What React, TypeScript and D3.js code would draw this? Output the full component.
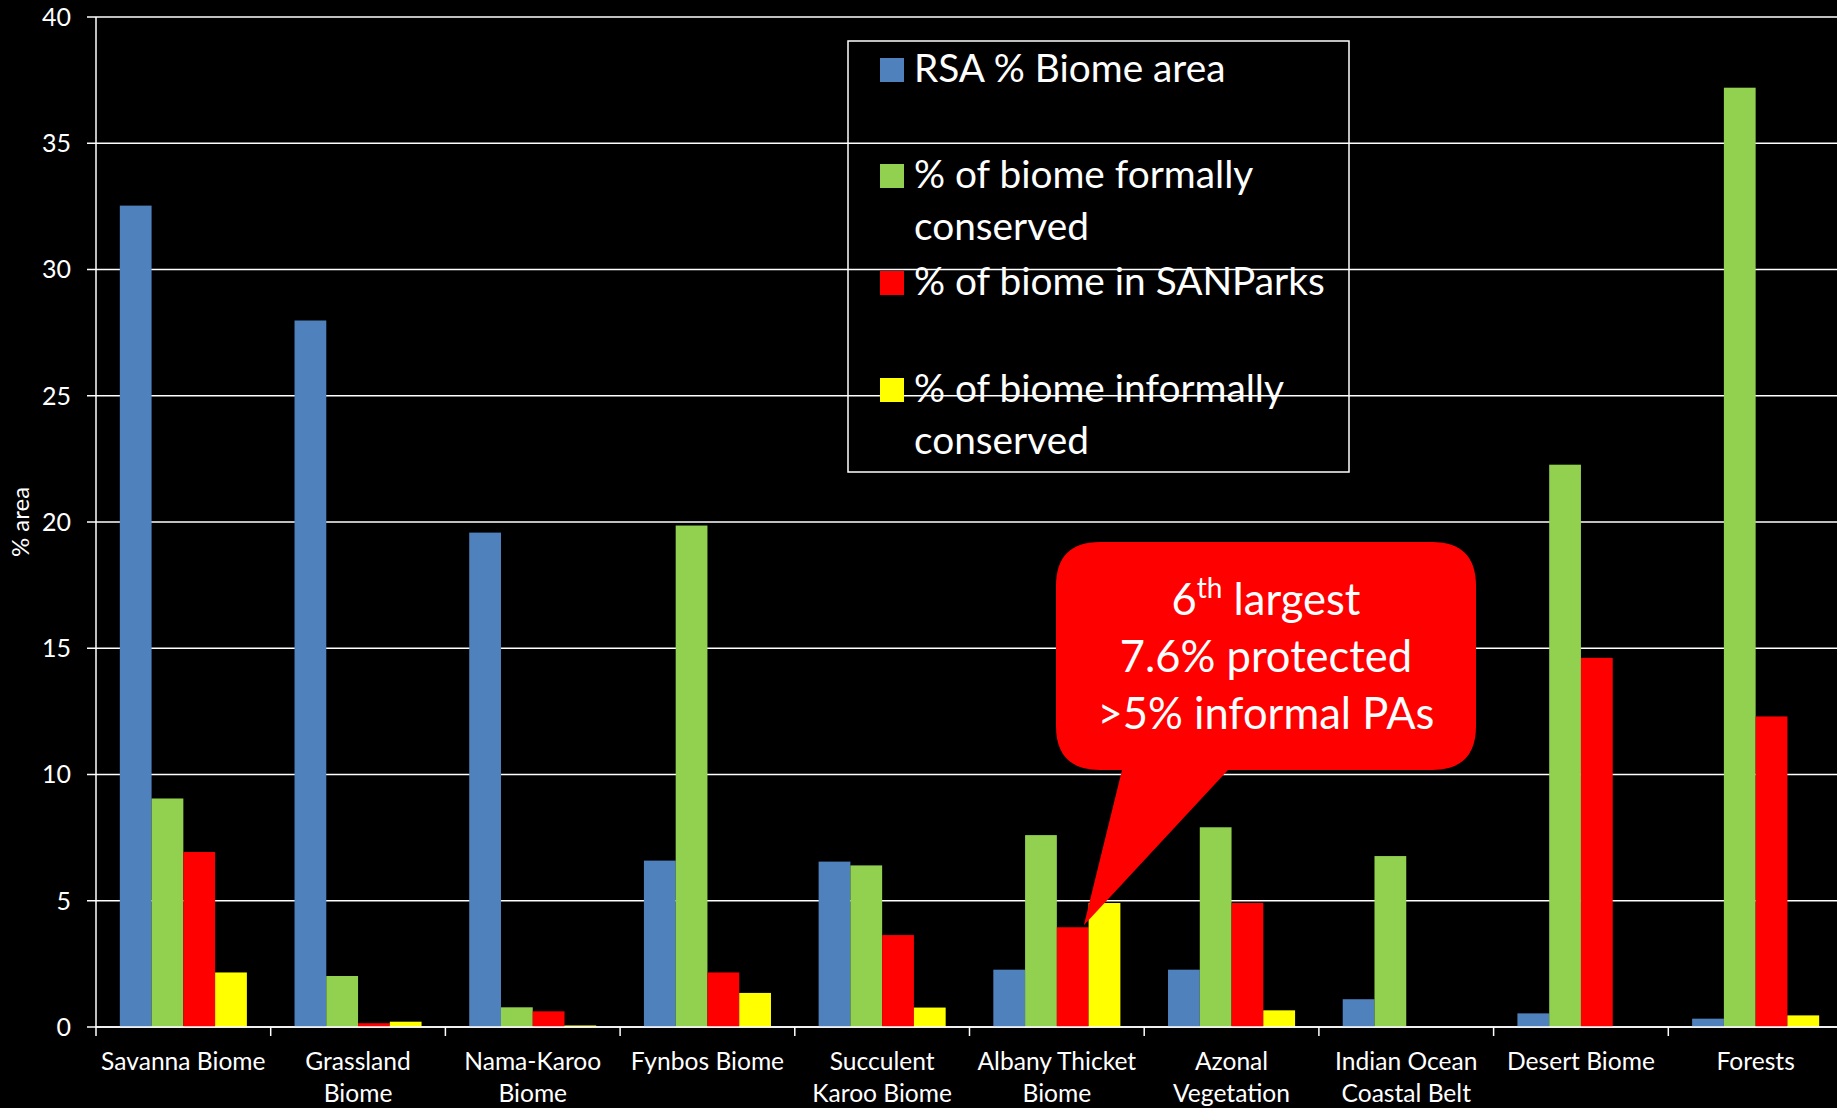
import React from "react";
import * as d3 from "d3";

const categories: string[][] = [
  ["Savanna Biome"],
  ["Grassland", "Biome"],
  ["Nama-Karoo", "Biome"],
  ["Fynbos Biome"],
  ["Succulent", "Karoo Biome"],
  ["Albany Thicket", "Biome"],
  ["Azonal", "Vegetation"],
  ["Indian Ocean", "Coastal Belt"],
  ["Desert Biome"],
  ["Forests"],
];

const seriesNames: string[][] = [
  ["RSA % Biome area"],
  ["% of biome formally", "conserved"],
  ["% of biome in SANParks"],
  ["% of biome informally", "conserved"],
];
const seriesColors = ["#4F81BD", "#92D050", "#FF0000", "#FFFF00"];

const rsaArea = [32.53, 27.98, 19.58, 6.59, 6.55, 2.27, 2.27, 1.1, 0.54, 0.33];
const formally = [9.05, 2.02, 0.78, 19.86, 6.4, 7.6, 7.91, 6.77, 22.27, 37.2];
const sanParks = [6.93, 0.15, 0.62, 2.16, 3.64, 3.95, 4.91, 0, 14.62, 12.3];
const informally = [2.16, 0.21, 0.06, 1.35, 0.77, 4.91, 0.66, 0, 0, 0.46];

const yTicks = [0, 5, 10, 15, 20, 25, 30, 35, 40];
const yTitle = "% area";
const calloutLines = ["7.6% protected", ">5% informal PAs"];

const FONT = "Lato, 'Open Sans', sans-serif";

export default function App() {
  const W = 1837;
  const H = 1108;
  const left = 96;
  const bandW = 174.7;
  const right = left + bandW * categories.length;
  const top = 17;
  const bottom = 1027;

  const y = d3.scaleLinear().domain([0, 40]).range([bottom, top]);
  const x = d3
    .scaleBand<number>()
    .domain(d3.range(categories.length))
    .range([left, right])
    .padding(0);
  const bw = x.bandwidth() / 5.5;
  const xs = d3
    .scaleBand<number>()
    .domain([0, 1, 2, 3])
    .range([bw * 0.75, x.bandwidth() - bw * 0.75])
    .padding(0);

  const series = [rsaArea, formally, sanParks, informally];

  // callout geometry
  const cx0 = 1056, cy0 = 542, cx1 = 1476, cy1 = 770, r = 44;
  const albany = 5;
  const tipX = (x(albany) as number) + (xs(2) as number) + xs.bandwidth() * 0.85;
  const tipY = y(sanParks[albany]) - 2;
  const tailL = 1122, tailR = 1228;
  const calloutPath = [
    `M${cx0 + r},${cy0}`,
    `L${cx1 - r},${cy0}`,
    `Q${cx1},${cy0} ${cx1},${cy0 + r}`,
    `L${cx1},${cy1 - r}`,
    `Q${cx1},${cy1} ${cx1 - r},${cy1}`,
    `L${tailR},${cy1}`,
    `L${tipX},${tipY}`,
    `L${tailL},${cy1}`,
    `L${cx0 + r},${cy1}`,
    `Q${cx0},${cy1} ${cx0},${cy1 - r}`,
    `L${cx0},${cy0 + r}`,
    `Q${cx0},${cy0} ${cx0 + r},${cy0}`,
    "Z",
  ].join(" ");
  const ccx = (cx0 + cx1) / 2;

  // legend layout
  const legX = 848, legY = 41, legW = 501, legH = 431;
  const legItemBase = [82, 188, 295, 402];
  const lineGap = 52;

  return (
    <svg
      width={W}
      height={H}
      style={{ position: "absolute", left: 0, top: 0, display: "block", background: "#000" }}
      fontFamily={FONT}
    >
      <rect x={0} y={0} width={W} height={H} fill="#000" />
      {/* gridlines */}
      {yTicks.map((t) => (
        <line
          key={"g" + t}
          x1={left - 9}
          x2={right}
          y1={y(t)}
          y2={y(t)}
          stroke="#fff"
          strokeWidth={1.5}
        />
      ))}
      {/* bars */}
      {series.map((vals, si) =>
        vals.map((v, ci) =>
          v > 0 ? (
            <rect
              key={`b${si}-${ci}`}
              x={(x(ci) as number) + (xs(si) as number)}
              y={y(v)}
              width={xs.bandwidth()}
              height={y(0) - y(v)}
              fill={seriesColors[si]}
            />
          ) : null
        )
      )}
      {/* y axis */}
      <line x1={left} x2={left} y1={top} y2={bottom} stroke="#fff" strokeWidth={1.5} />
      {yTicks.map((t) => (
        <text
          key={"yt" + t}
          x={71}
          y={y(t)}
          dy="0.35em"
          textAnchor="end"
          fill="#fff"
          fontSize={25}
        >
          {t}
        </text>
      ))}
      <text
        transform={`translate(29,${522}) rotate(-90)`}
        textAnchor="middle"
        fill="#fff"
        fontSize={24}
      >
        {yTitle}
      </text>
      {/* x axis */}
      <line x1={left} x2={right} y1={bottom} y2={bottom} stroke="#fff" strokeWidth={1.5} />
      {d3.range(categories.length + 1).map((i) => (
        <line
          key={"xt" + i}
          x1={left + i * bandW}
          x2={left + i * bandW}
          y1={bottom}
          y2={bottom + 9}
          stroke="#fff"
          strokeWidth={1.5}
        />
      ))}
      {categories.map((lines, ci) => (
        <text
          key={"xl" + ci}
          x={(x(ci) as number) + x.bandwidth() / 2}
          y={1070}
          textAnchor="middle"
          fill="#fff"
          fontSize={24.6}
        >
          {lines.map((l, li) => (
            <tspan key={li} x={(x(ci) as number) + x.bandwidth() / 2} dy={li === 0 ? 0 : 32}>
              {l}
            </tspan>
          ))}
        </text>
      ))}
      {/* legend */}
      <rect x={legX} y={legY} width={legW} height={legH} fill="none" stroke="#fff" strokeWidth={1.5} />
      {seriesNames.map((lines, si) => (
        <g key={"lg" + si}>
          <rect x={880} y={legItemBase[si] - 24} width={24} height={24} fill={seriesColors[si]} />
          <text x={914} y={legItemBase[si]} fill="#fff" fontSize={38.8}>
            {lines.map((l, li) => (
              <tspan key={li} x={914} dy={li === 0 ? 0 : lineGap}>
                {l}
              </tspan>
            ))}
          </text>
        </g>
      ))}
      {/* callout */}
      <path d={calloutPath} fill="#FF0000" />
      <text x={ccx} y={615} textAnchor="middle" fill="#fff" fontSize={43.5}>
        6<tspan fontSize={28} dy={-17}>th</tspan>
        <tspan dy={17}> largest</tspan>
      </text>
      {calloutLines.map((l, i) => (
        <text key={"cl" + i} x={ccx} y={672 + i * 57} textAnchor="middle" fill="#fff" fontSize={43.5}>
          {l}
        </text>
      ))}
    </svg>
  );
}
